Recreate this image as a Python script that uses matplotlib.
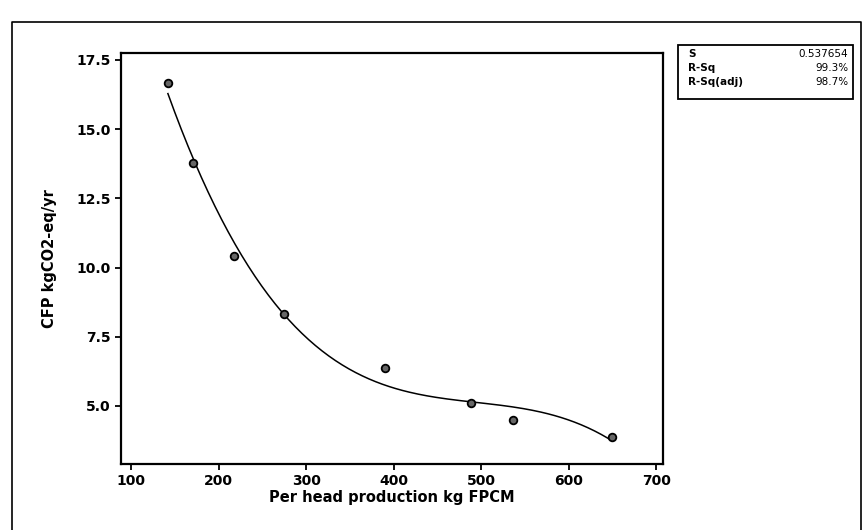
import numpy as np
import matplotlib.pyplot as plt
from matplotlib.patches import Rectangle
from matplotlib.lines import Line2D

# per head production (kg FPCM) vs carbon footprint
production = [142, 171, 217, 275, 390, 488, 536, 650]
cfp = [16.65, 13.77, 10.42, 8.32, 6.38, 5.12, 4.49, 3.89]

stat_names = ["S", "R-Sq", "R-Sq(adj)"]
stat_values = ["0.537654", "99.3%", "98.7%"]

xticks = [100, 200, 300, 400, 500, 600, 700]
yticks = [5.0, 7.5, 10.0, 12.5, 15.0, 17.5]

fig = plt.figure(figsize=(8.65, 5.3), dpi=100)
ax = fig.add_axes([0.140, 0.1245, 0.6266, 0.7755])

# cubic fitted line, as in a fitted line plot
coef = np.polyfit(production, cfp, 3)
xs = np.linspace(min(production), max(production), 200)
ax.plot(xs, np.polyval(coef, xs), color='black', lw=1.1, zorder=2)
ax.plot(production, cfp, 'o', ms=5.5, mfc='#666666', mec='black', mew=1.3, zorder=3)

ax.set_xlim(88.5, 708)
ax.set_ylim(2.9, 17.75)
ax.set_xticks(xticks)
ax.set_yticks(yticks)
ax.set_yticklabels([f"{v:.1f}" for v in yticks])
ax.tick_params(direction='out', length=4, width=1.3, labelsize=10)
for lab in ax.get_xticklabels() + ax.get_yticklabels():
    lab.set_fontweight('bold')
for sp in ax.spines.values():
    sp.set_linewidth(1.6)

ax.set_xlabel("Per head production kg FPCM", fontsize=10.5, fontweight='bold', labelpad=1)
ax.set_ylabel("CFP kgCO2-eq/yr", fontsize=10.5, fontweight='bold', labelpad=14)

# summary box
W, H = 865, 530
fig.patches.append(Rectangle((678 / W, 1 - 99 / H), (853 - 678) / W, (99 - 45) / H,
                             transform=fig.transFigure, fill=False, ec='black', lw=1.3))
for i, (n, v) in enumerate(zip(stat_names, stat_values)):
    yy = 1 - (54 + i * 14) / H
    fig.text(688 / W, yy, n, fontsize=7.5, fontweight='bold', va='center', ha='left')
    fig.text(848 / W, yy, v, fontsize=7.5, va='center', ha='right')

# outer frame of the scanned figure
fig.lines.append(Line2D([12 / W, 12 / W, 861 / W, 861 / W], [0, 1 - 22 / H, 1 - 22 / H, 0],
                        transform=fig.transFigure, color='black', lw=1.2))

fig.savefig('out.png', dpi=100)
